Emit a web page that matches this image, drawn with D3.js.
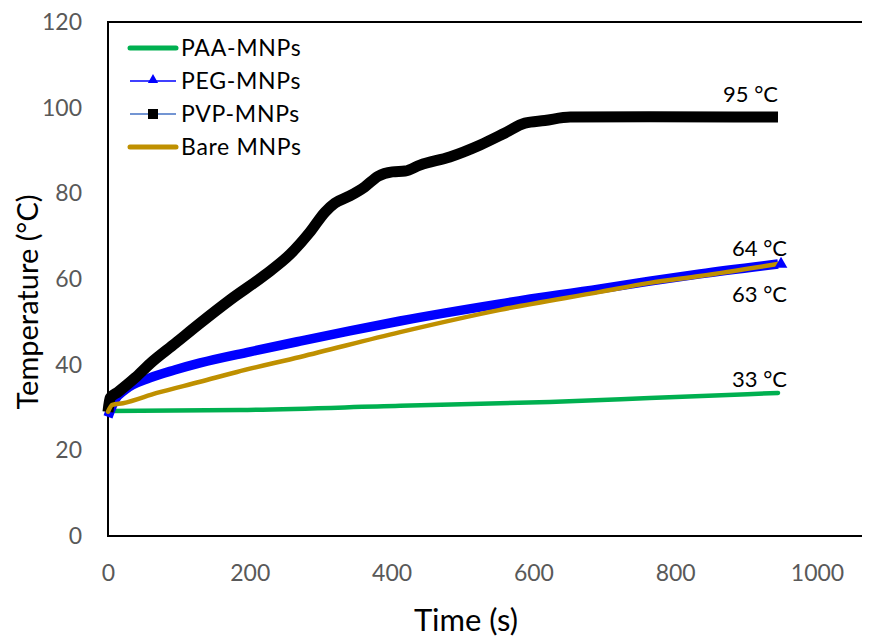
<!DOCTYPE html>
<html><head><meta charset="utf-8">
<script src="https://cdn.jsdelivr.net/npm/d3@7"></script>
<style>body{margin:0;background:#fff}svg{display:block}</style>
</head><body>
<script>
// ---- data ----
const xTicks = [0, 200, 400, 600, 800, 1000];
const yTicks = [0, 20, 40, 60, 80, 100, 120];
const seriesNames = ["PAA-MNPs", "PEG-MNPs", "PVP-MNPs", "Bare MNPs"];
const paaT = [0, 186, 412, 623, 764, 945];
const paaV = [29.2, 29.4, 30.4, 31.3, 32.2, 33.4];
const pegT = [0, 10, 24, 59, 95, 130, 200, 271, 341, 412, 553, 694, 764, 835, 945];
const pegV = [27.8, 31.8, 34.1, 36.9, 38.8, 40.4, 43, 45.5, 47.9, 50.2, 54.2, 57.7, 59.5, 61.2, 63.5];
const pvpT = [0, 3, 14, 38, 59, 95, 130, 172, 221, 257, 285, 306, 320, 341, 362, 381, 401, 419, 440, 482, 525, 560, 588, 616, 652, 764, 945];
const pvpV = [29, 32.2, 33.6, 36.9, 40.2, 45, 49.7, 55.1, 60.9, 65.8, 71, 75.6, 77.7, 79.4, 81.5, 84, 85, 85.2, 86.6, 88.5, 91.3, 94.1, 96.4, 97, 97.8, 97.9, 97.8];
const bareT = [0, 6, 21, 69, 130, 182, 271, 412, 553, 694, 764, 835, 945];
const bareV = [29, 30.6, 31, 33.4, 36, 38.3, 41.8, 47.6, 52.8, 57, 59.1, 60.7, 63.5];
const annoText = ["95 °C", "64 °C", "63 °C", "33 °C"];
const annoT = [945, 945, 945, 945];
const annoV = [97.8, 63.5, 63.5, 33.4];

const W = 880, H = 642;
const svg = d3.select("body").append("svg").attr("width", W).attr("height", H);
const x = d3.scaleLinear().domain([0, 1000]).range([108, 817]);
const y = d3.scaleLinear().domain([0, 120]).range([536, 22]);
const font = "Lato, 'Open Sans', sans-serif";

// frame
svg.append("path")
  .attr("d", `M862,${y(120)} H${x(0)} V${y(0)} H862`)
  .attr("fill", "none").attr("stroke", "#000").attr("stroke-width", 2);

// tick labels via d3 axes (no domain/tick lines)
const xa = svg.append("g").attr("transform", `translate(0,${y(0)})`)
  .call(d3.axisBottom(x).tickValues(xTicks).tickSize(0).tickPadding(29).tickFormat(d3.format("d")));
xa.select(".domain").remove();
xa.selectAll("text").attr("font-family", font).attr("font-size", 23).attr("fill", "#595959");
const ya = svg.append("g").attr("transform", `translate(${x(0)},0)`)
  .call(d3.axisLeft(y).tickValues(yTicks).tickSize(0).tickPadding(26).tickFormat(d3.format("d")));
ya.select(".domain").remove();
ya.selectAll("text").attr("font-family", font).attr("font-size", 23).attr("fill", "#595959");

// axis titles
svg.append("text").attr("x", 466).attr("y", 631).attr("text-anchor", "middle")
  .attr("font-family", font).attr("font-size", 31).attr("fill", "#000").text("Time (s)");
svg.append("text").attr("transform", "translate(38,302) rotate(-90)").attr("text-anchor", "middle")
  .attr("font-family", font).attr("font-size", 29).attr("fill", "#000").text("Temperature (°C)");

const line = d3.line().x(d => x(d[0])).y(d => y(d[1])).curve(d3.curveMonotoneX);
const zip = (a, b) => a.map((t, i) => [t, b[i]]);
const g = svg.append("g");
g.append("path").datum(zip(paaT, paaV)).attr("d", line).attr("fill", "none")
  .attr("stroke", "#00B050").attr("stroke-width", 4.5).attr("stroke-linecap", "round");
g.append("path").datum(zip(pegT, pegV)).attr("d", line).attr("fill", "none")
  .attr("stroke", "#0000FF").attr("stroke-width", 9.5).attr("stroke-linejoin", "round");
g.append("path").datum(zip(pvpT, pvpV)).attr("d", line).attr("fill", "none")
  .attr("stroke", "#000").attr("stroke-width", 11).attr("stroke-linejoin", "round");
g.append("path").datum(zip(bareT, bareV)).attr("d", line).attr("fill", "none")
  .attr("stroke", "#BF9000").attr("stroke-width", 4.5).attr("stroke-linecap", "round");
// PEG end marker
g.append("path").attr("d", d3.symbol(d3.symbolTriangle, 70)())
  .attr("transform", `translate(${x(pegT[pegT.length-1])+3},${y(pegV[pegV.length-1])})`).attr("fill", "#0000FF");

// annotations (positioned relative to series end points)
const annoDx = [0, 9, 9, 9];
const annoDy = [-15, -8, 38, -6];
annoText.forEach((t, i) => {
  svg.append("text").attr("x", x(annoT[i]) + annoDx[i]).attr("y", y(annoV[i]) + annoDy[i]).attr("text-anchor", "end")
    .attr("font-family", font).attr("font-size", 22).attr("fill", "#000").text(t);
});

// legend
const lg = svg.append("g");
const rowY = [48, 81, 114, 147];
seriesNames.forEach((n, i) => {
  const yy = rowY[i];
  if (i === 0 || i === 3) {
    lg.append("line").attr("x1", 130).attr("x2", 176).attr("y1", yy).attr("y2", yy)
      .attr("stroke", i === 0 ? "#00B050" : "#BF9000").attr("stroke-width", 5).attr("stroke-linecap", "round");
  } else {
    lg.append("line").attr("x1", 130).attr("x2", 176).attr("y1", yy).attr("y2", yy)
      .attr("stroke", i === 1 ? "#0000FF" : "#4472C4").attr("stroke-width", 1.5);
    if (i === 1) {
      lg.append("path").attr("d", d3.symbol(d3.symbolTriangle, 45)()).attr("transform", `translate(153,${yy-1})`).attr("fill", "#0000FF");
    } else {
      lg.append("rect").attr("x", 148).attr("y", yy - 5).attr("width", 10).attr("height", 10).attr("fill", "#000");
    }
  }
  lg.append("text").attr("x", 181).attr("y", yy + 8).attr("font-family", font).attr("font-size", 23)
    .attr("letter-spacing", 0.7).attr("fill", "#000").text(n);
});
</script>
</body></html>
